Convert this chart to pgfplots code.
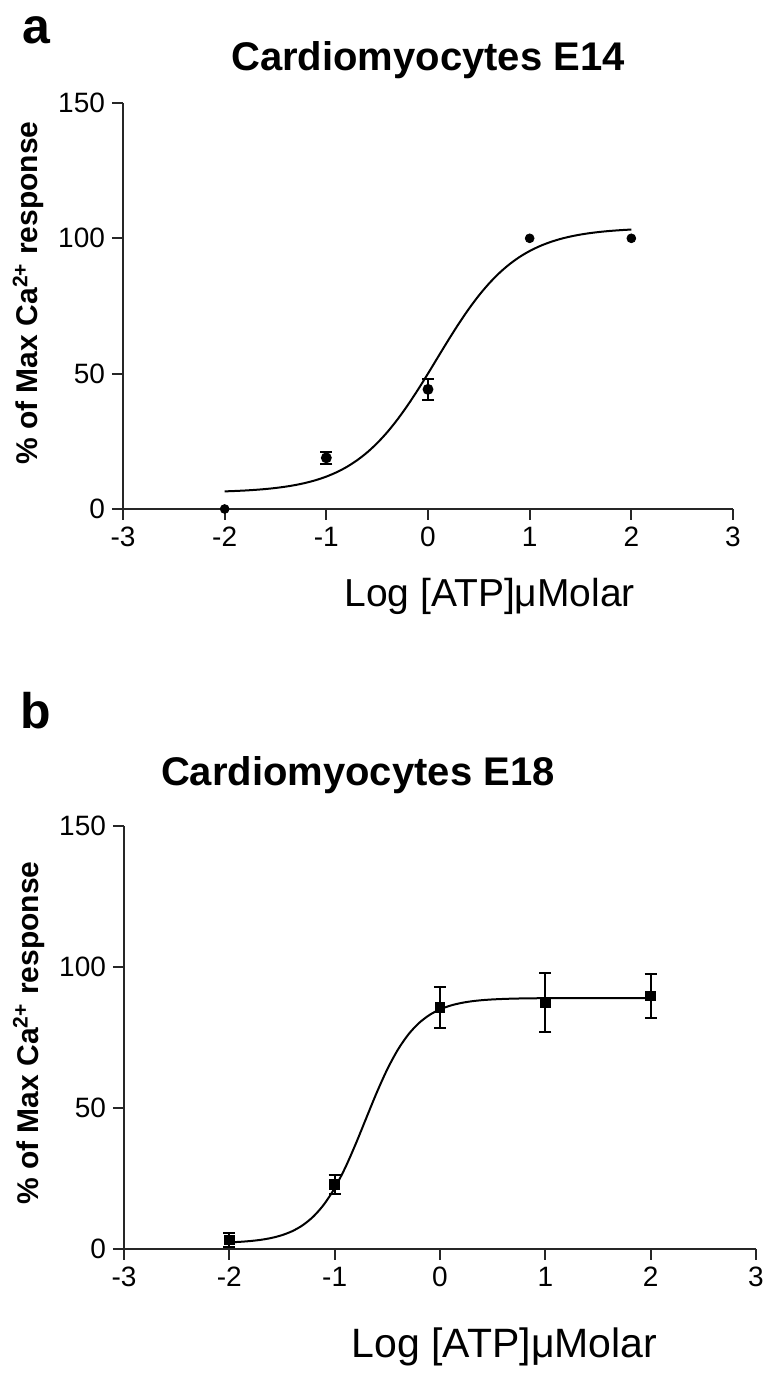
\documentclass[border=0pt]{standalone}
\usepackage{fontspec}
\setmainfont{Liberation Sans}
\usepackage{pgfplots}
\pgfplotsset{compat=1.18}

\pgfplotsset{
  doseresp/.style={
    scale only axis, anchor=south west,
    xmin=-3, xmax=3, ymin=0, ymax=150,
    xtick={-3,-2,-1,0,1,2,3}, ytick={0,50,100,150},
    axis lines=left, axis line style={-, line width=1pt, black!85},
    tick align=outside, major tick length=5.5pt,
    tick style={line width=1pt, black!85},
    tick label style={font=\fontsize{14}{16}\selectfont},
    /pgf/number format/assume math mode=true,
    xlabel style={font=\fontsize{19.5}{22}\selectfont, anchor=base},
    ylabel style={font=\fontsize{15}{18}\selectfont\bfseries, anchor=south},
    title style={font=\fontsize{20}{24}\selectfont\bfseries, anchor=base},
    clip=false,
  },
  fitcurve/.style={black, line width=1pt, no marks, smooth},
  dots/.style={black, only marks, line width=1pt,
    error bars/y dir=both, error bars/y explicit,
    error bars/error bar style={line width=1pt},
    error bars/error mark options={rotate=90, mark size=3pt, line width=1pt}},
}

\begin{document}
\begin{tikzpicture}
\path[use as bounding box] (0,0) rectangle (383.5pt,688pt);

% panel a: E14
\begin{axis}[doseresp,
  at={(61.5pt,433.5pt)}, width=305pt, height=203pt,
  xlabel={Log [ATP]μMolar},
  xlabel style={at={(axis description cs:0.601,0)}, yshift=-49pt},
  ylabel={\% of Max Ca\textsuperscript{2+} response},
  ylabel style={at={(axis description cs:-0.118,0.532)}},
  title={Cardiomyocytes E14},
  title style={at={(axis description cs:0.5,1)}, yshift=10pt},
]
\addplot[fitcurve] coordinates {
  (-2.0,6.50) (-1.9,6.65) (-1.8,6.83) (-1.7,7.07) (-1.6,7.37) (-1.5,7.76)
  (-1.4,8.26) (-1.3,8.89) (-1.2,9.69) (-1.1,10.70) (-1.0,11.97) (-0.9,13.56)
  (-0.8,15.52) (-0.7,17.94) (-0.6,20.85) (-0.5,24.34) (-0.4,28.41) (-0.3,33.09)
  (-0.2,38.32) (-0.1,44.01) (0.0,50.04) (0.1,56.24) (0.2,62.39) (0.3,68.31)
  (0.4,73.84) (0.5,78.86) (0.6,83.29) (0.7,87.13) (0.8,90.38) (0.9,93.09)
  (1.0,95.31) (1.1,97.12) (1.2,98.57) (1.3,99.74) (1.4,100.66) (1.5,101.39)
  (1.6,101.96) (1.7,102.41) (1.8,102.76) (1.9,103.03) (2.0,103.25)
};
\addplot[dots, mark=*, mark size=2.2pt] coordinates {
  (-1,18.9) +- (0,2.3)
  (0,44.2) +- (0,4.0)
};
\addplot[black, only marks, mark=*, mark size=2.2pt] coordinates {
  (-2,0) (1,100) (2,100)
};
\end{axis}

% panel b: E18
\begin{axis}[doseresp,
  at={(62pt,63.5pt)}, width=316pt, height=211.5pt,
  xlabel={Log [ATP]μMolar},
  xlabel style={at={(axis description cs:0.602,0)}, yshift=-54.5pt,
    font=\fontsize{20.5}{24}\selectfont},
  ylabel={\% of Max Ca\textsuperscript{2+} response},
  ylabel style={at={(axis description cs:-0.115,0.51)}},
  title={Cardiomyocytes E18},
  title style={at={(axis description cs:0.37,1)}, yshift=14pt},
]
\addplot[fitcurve] coordinates {
  (-2.0,2.36) (-1.9,2.54) (-1.8,2.83) (-1.7,3.26) (-1.6,3.92) (-1.5,4.91)
  (-1.4,6.37) (-1.3,8.52) (-1.2,11.60) (-1.1,15.88) (-1.0,21.59) (-0.9,28.80)
  (-0.8,37.27) (-0.7,46.43) (-0.6,55.51) (-0.5,63.76) (-0.4,70.67) (-0.3,76.09)
  (-0.2,80.11) (-0.1,82.98) (0.0,84.97) (0.1,86.32) (0.2,87.23) (0.3,87.84)
  (0.4,88.24) (0.5,88.50) (0.6,88.67) (0.7,88.79) (0.8,88.86) (0.9,88.91)
  (1.0,88.94) (1.2,88.97) (1.5,88.99) (2.0,89.00)
};
\addplot[dots, mark=square*, mark size=2.2pt] coordinates {
  (-2,3.2) +- (0,2.5)
  (-1,23.0) +- (0,3.4)
  (0,85.6) +- (0,7.4)
  (1,87.5) +- (0,10.5)
  (2,89.7) +- (0,7.7)
};
\end{axis}

% panel letters
\node[anchor=base west, inner sep=0pt, font=\fontsize{25}{28}\selectfont\bfseries]
  at (11pt,666pt) {a};
\node[anchor=base west, inner sep=0pt, font=\fontsize{25}{28}\selectfont\bfseries]
  at (10pt,323.5pt) {b};
\end{tikzpicture}
\end{document}
